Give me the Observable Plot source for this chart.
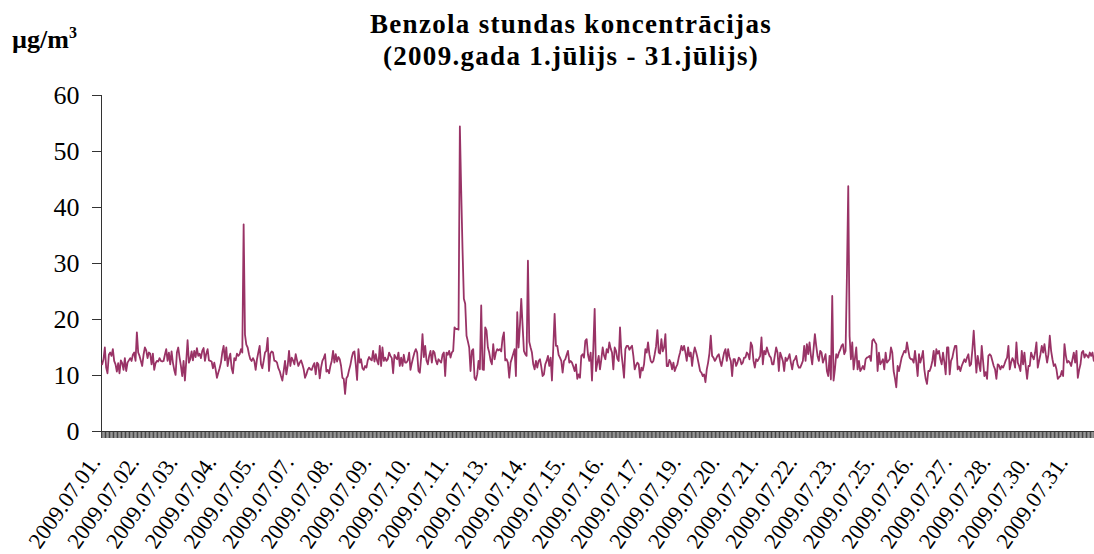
<!DOCTYPE html>
<html>
<head>
<meta charset="utf-8">
<script src="https://cdn.jsdelivr.net/npm/d3@7"></script>
<script src="https://cdn.jsdelivr.net/npm/@observablehq/plot@0.6"></script>
<style>
  html, body { margin: 0; padding: 0; background: #fff; }
  #wrap { position: relative; width: 1094px; height: 554px; overflow: hidden; font-family: "Liberation Serif", "Times New Roman", serif; }
  #title { position: absolute; left: 48px; width: 1046px; top: 8px; text-align: center; font-weight: bold; font-size: 27px; line-height: 32px; letter-spacing: 1.3px; color: #000; }
  #unit { position: absolute; left: 12px; top: 24px; font-weight: bold; font-size: 26px; line-height: 32px; color: #000; }
  #unit sup { font-size: 16px; vertical-align: 10px; line-height: 0; }
  svg { position: absolute; left: 0; top: 0; }
</style>
</head>
<body>
<div id="wrap">
  <div id="title">Benzola stundas koncentrācijas<br>(2009.gada 1.jūlijs - 31.jūlijs)</div>
  <div id="unit">µg/m<sup>3</sup></div>
</div>
<script>
// Hourly benzene concentrations, µg/m³, one array per day (24 hours each)
const d01 = [12.0,12.9,15.0,11.4,10.4,13.7,14.1,13.5,14.7,12.6,12.0,10.7,12.2,10.4,12.7,12.2,11.0,13.1,10.8,12.3,12.7,13.1,12.6,13.7];
const d02 = [14.1,12.6,17.7,14.1,13.5,12.6,11.7,13.7,15.0,14.5,13.1,14.1,13.9,12.0,13.9,11.0,12.2,12.6,12.5,13.1,12.6,12.5,12.6,13.7];
const d03 = [14.7,12.6,14.1,12.0,14.3,12.3,11.0,10.1,14.1,15.0,13.2,11.7,9.9,12.6,9.1,12.6,16.3,12.3,12.9,14.3,12.7,14.4,13.3,14.9];
const d04 = [13.5,13.9,13.1,14.4,14.9,12.6,13.9,14.7,12.7,12.6,12.5,11.3,12.3,11.1,9.6,10.5,11.3,12.3,14.1,15.3,12.7,15.0,11.7,13.1];
const d05 = [13.9,11.3,10.4,13.1,12.7,13.9,13.5,13.8,14.7,14.1,37.0,17.3,15.5,15.0,13.8,12.9,12.6,13.1,12.6,11.0,12.9,14.1,15.3,12.0];
const d06 = [11.3,12.6,14.1,14.4,16.7,10.8,13.9,14.3,14.1,12.6,12.6,12.3,11.3,10.8,9.9,9.1,10.8,12.6,10.2,11.7,14.4,11.7,13.2,12.7];
const d07 = [12.0,13.8,12.7,11.7,12.3,12.7,12.0,11.1,9.6,10.2,11.0,11.4,11.1,11.0,11.7,12.2,10.2,12.3,12.0,9.5,11.4,12.6,13.1,13.8];
const d08 = [10.7,11.0,10.4,11.7,12.6,14.4,12.3,13.8,12.5,13.3,12.9,11.7,9.6,9.4,6.7,9.5,9.9,11.0,11.9,13.2,14.1,14.3,12.0,9.2];
const d09 = [14.7,12.3,12.9,11.3,11.0,11.7,11.4,12.7,13.3,12.9,12.7,14.4,12.5,13.8,12.6,12.0,15.3,11.7,15.0,12.6,13.2,12.6,12.9,14.1];
const d10 = [13.5,13.1,10.4,13.7,13.2,12.9,14.1,11.7,13.2,11.7,13.7,12.3,12.3,12.7,14.1,11.0,12.2,13.2,14.1,14.7,14.1,10.8,10.5,13.2];
const d11 = [17.4,13.3,15.3,12.7,12.0,13.5,14.4,12.3,14.4,14.1,12.7,12.0,12.9,12.6,12.3,13.7,14.1,9.9,14.1,13.7,14.4,13.2,14.1,14.4];
const d12 = [18.6,18.3,18.3,18.2,54.5,43.0,32.5,23.7,22.8,17.1,16.1,15.0,10.8,14.4,14.7,9.6,9.2,10.2,12.6,11.1,22.5,11.1,11.0,18.6];
const d13 = [18.0,15.0,14.1,12.7,12.0,15.6,12.9,14.1,14.7,14.5,14.7,14.3,16.7,17.7,12.7,12.9,12.3,9.6,12.3,13.1,13.9,14.7,9.9,21.3];
const d14 = [15.0,18.9,23.7,18.9,14.4,13.8,13.5,30.5,16.0,15.0,14.1,12.0,11.1,12.6,11.4,12.6,12.9,11.6,9.9,10.2,12.0,12.6,13.5,11.7];
const d15 = [13.2,9.1,15.0,21.0,15.3,15.3,13.7,13.2,12.6,10.5,12.6,12.9,13.7,14.4,12.3,12.6,12.3,11.6,10.8,12.0,9.4,10.2,9.6,13.5];
const d16 = [13.8,13.2,16.2,16.5,13.7,12.6,14.1,9.1,15.0,21.9,10.8,12.2,13.5,11.1,12.9,15.0,13.6,12.9,14.7,14.1,15.9,14.8,14.1,11.1];
const d17 = [15.0,14.4,13.0,12.6,18.6,14.1,12.0,9.6,14.7,15.3,15.3,14.6,15.0,15.3,13.5,11.1,11.8,12.3,12.0,9.6,11.4,10.9,12.0,14.7];
const d18 = [14.1,15.9,13.8,12.6,12.3,12.6,13.8,15.2,18.1,14.1,13.9,16.5,14.3,15.0,17.4,11.7,11.7,12.8,12.3,11.1,12.3,10.8,11.5,12.0];
const d19 = [13.2,14.1,15.3,14.5,15.3,14.1,12.6,15.0,13.4,14.1,11.7,13.8,15.0,14.2,13.2,12.0,10.8,10.5,9.9,10.2,8.8,11.1,12.3,14.0];
const d20 = [17.1,13.5,13.2,12.6,13.0,13.5,13.8,12.6,11.7,12.9,14.1,14.7,12.6,14.7,13.3,12.6,9.9,12.9,12.9,11.7,12.3,13.2,12.9,12.0];
const d21 = [12.3,13.2,13.2,14.1,13.8,12.9,15.9,15.3,12.6,11.4,12.9,12.6,13.0,13.5,16.8,12.0,14.4,13.8,15.0,14.2,13.5,13.2,12.0,12.0];
const d22 = [13.6,15.0,14.1,10.8,14.1,13.4,12.6,10.8,13.2,12.6,13.1,13.8,12.3,11.1,12.6,12.9,13.5,12.0,11.4,11.4,12.0,12.6,15.3,12.6];
const d23 = [15.6,13.8,15.9,13.6,12.0,14.7,17.4,15.3,13.5,12.6,14.4,14.1,12.3,13.0,13.8,10.8,9.9,13.5,9.3,24.2,9.1,11.1,13.8,13.2];
const d24 = [14.1,14.6,15.3,15.6,13.8,14.4,27.8,43.8,17.0,12.9,15.9,11.1,13.0,15.0,11.1,12.6,10.8,11.2,11.7,11.1,12.9,13.2,13.3,13.5];
const d25 = [12.6,16.2,16.5,16.0,15.6,10.8,14.1,12.0,12.4,12.9,11.1,14.1,12.3,12.6,12.9,15.0,14.1,10.8,9.5,7.9,11.7,10.8,12.0,13.2];
const d26 = [13.8,14.4,14.1,15.9,14.5,13.2,12.9,12.9,12.3,14.4,12.3,9.9,13.8,12.3,13.2,14.4,11.1,9.4,8.5,10.8,10.8,11.5,12.6,14.4];
const d27 = [11.7,14.7,13.9,14.4,12.9,12.0,14.1,12.4,10.2,15.0,15.0,10.2,12.6,13.2,14.4,15.3,15.3,11.1,11.6,10.8,11.7,12.3,12.9,12.4];
const d28 = [13.2,13.8,11.7,12.0,14.6,18.0,14.1,10.5,13.5,12.1,10.8,15.3,12.6,9.9,10.6,9.4,13.5,13.8,13.5,12.6,11.7,11.1,9.4,12.0];
const d29 = [11.8,11.1,11.7,11.4,12.0,12.7,13.2,15.3,11.1,12.3,13.1,12.6,11.4,15.9,12.3,11.7,10.8,14.4,12.0,14.1,11.6,9.4,11.7,11.7];
const d30 = [14.1,13.4,12.9,14.1,15.9,11.4,12.6,13.8,15.3,14.1,15.6,13.8,12.3,13.8,17.1,14.4,12.9,11.7,12.0,11.1,9.4,9.7,9.9,10.8];
const d31 = [9.9,15.6,13.6,12.3,12.6,12.3,11.7,12.9,14.1,12.3,14.4,9.6,11.0,12.0,14.1,14.4,13.2,13.8,13.5,13.2,14.1,13.5,14.1,12.6];

// Day category labels
const dates = ["2009.07.01.","2009.07.02.","2009.07.03.","2009.07.04.","2009.07.05.","2009.07.06.","2009.07.07.","2009.07.08.","2009.07.09.","2009.07.10.","2009.07.11.","2009.07.12.","2009.07.13.","2009.07.14.","2009.07.15.","2009.07.16.","2009.07.17.","2009.07.18.","2009.07.19.","2009.07.20.","2009.07.21.","2009.07.22.","2009.07.23.","2009.07.24.","2009.07.25.","2009.07.26.","2009.07.27.","2009.07.28.","2009.07.29.","2009.07.30.","2009.07.31."];
const yTicks = [0, 10, 20, 30, 40, 50, 60];

const days = [d01,d02,d03,d04,d05,d06,d07,d08,d09,d10,d11,d12,d13,d14,d15,d16,d17,d18,d19,d20,d21,d22,d23,d24,d25,d26,d27,d28,d29,d30,d31];
const rows = [];
days.forEach((arr, d) => arr.forEach((v, h) => rows.push({idx: d * 24 + h, date: dates[d], value: v})));
const n = rows.length;
const labelStep = 29;
const labelRows = rows.filter(r => r.idx % labelStep === 0);

const chart = Plot.plot({
  width: 1094,
  height: 554,
  marginLeft: 101,
  marginRight: 0,
  marginTop: 95,
  marginBottom: 123,
  style: {fontFamily: "Liberation Serif, Times New Roman, serif", fontSize: "26px", color: "#000", background: "transparent", overflow: "visible"},
  x: {domain: [0, n]},
  y: {domain: [0, 60]},
  marks: [
    Plot.axisY({ticks: yTicks, tickSize: 9, tickPadding: 13, fontSize: 26, stroke: "#333", label: null}),
    Plot.axisX({ticks: d3.range(0, n + 1), tickSize: 7, tickFormat: () => "", stroke: "#444", label: null}),
    Plot.text(labelRows, {x: r => r.idx + 0.5, frameAnchor: "bottom", text: "date", rotate: -55, textAnchor: "end", lineAnchor: "bottom", dy: 31, dx: -1, fontSize: 22.5, fill: "#000"}),
    Plot.ruleX([0], {stroke: "#333"}),
    Plot.ruleY([0], {stroke: "#333"}),
    Plot.lineY(rows, {x: r => r.idx + 0.5, y: "value", stroke: "#993366", strokeWidth: 1.8})
  ]
});
document.getElementById("wrap").appendChild(chart);
</script>
</body>
</html>
